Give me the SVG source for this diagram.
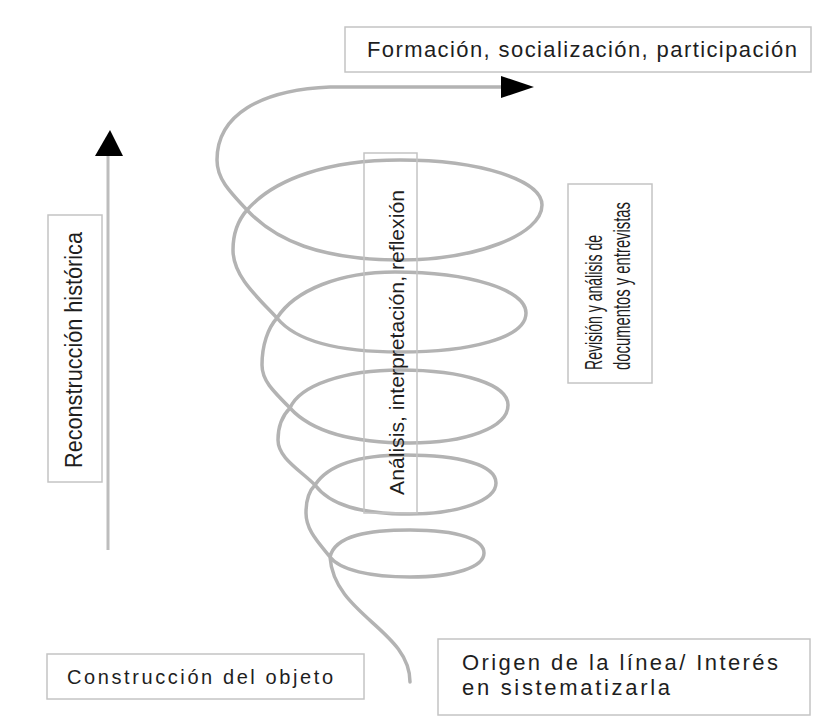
<svg xmlns="http://www.w3.org/2000/svg" width="816" height="717" viewBox="0 0 816 717">
<style>
.box{fill:#ffffff;stroke:#c4c4c4;stroke-width:1.5}
.lbl{font-family:"Liberation Sans",Arial,sans-serif;fill:#1e1e1e}
.spiral{fill:none;stroke:#b3b3b3;stroke-width:3.5;stroke-linecap:round;stroke-linejoin:round}
.axis{fill:none;stroke:#bdbdbd;stroke-width:3}
.head{fill:#000000}
</style>
<rect x="0" y="0" width="816" height="717" fill="#ffffff"/>
<g id="connectors">
<path class="spiral" d="M 410,682 C 410,630 334,615 330,557 C 335,535 370,530 410,530 C 460,530 484,540 484,553 C 484,567 455,577 410,577 C 370,577 340,570 330,557 C 318,542 306,530 306,513 C 306,500 310,490 315,485 C 330,462 365,455 405,455 C 460,455 496,465 496,483 C 496,500 460,514 410,514 C 360,514 330,505 315,485 C 300,470 278,458 278,440 C 278,425 283,415 290,408 C 300,385 345,370 400,370 C 465,370 508,385 508,405 C 508,428 465,443 410,443 C 350,443 310,430 290,408 C 272,390 262,380 262,365 C 262,345 268,328 277,318 C 295,290 340,272 395,272 C 470,272 526,290 526,313 C 526,338 470,352 400,352 C 335,352 295,340 277,318 C 255,295 233,275 233,250 C 233,232 240,218 247,210 C 275,178 330,160 400,160 C 480,160 542,180 542,205 C 542,235 475,260 400,260 C 320,260 275,240 247,210 C 228,190 217,178 217,160 C 217,115 260,90 330,87 L 505,87"/>
<polygon class="head" points="534,87 501,76 501,98"/>
<line class="axis" x1="108" y1="550" x2="108" y2="154"/>
<polygon class="head" points="110,130 95,156 123,156"/>
</g>
<g id="formacion">
<rect class="box" x="345" y="27" width="466" height="45"/>
<text class="lbl" x="367" y="57" font-size="22" textLength="430">Formación, socialización, participación</text>
</g>
<g id="reconstruccion">
<rect class="box" x="48" y="215" width="54" height="267"/>
<text class="lbl" font-size="23" transform="translate(82,468) rotate(-90)" textLength="236" lengthAdjust="spacingAndGlyphs">Reconstrucción histórica</text>
</g>
<g id="analisis">
<rect class="box" x="364" y="153" width="53" height="360" style="fill:none"/>
<text class="lbl" font-size="21" transform="translate(404,495) rotate(-90)" textLength="305" lengthAdjust="spacingAndGlyphs">Análisis, interpretación, reflexión</text>
</g>
<g id="revision">
<rect class="box" x="568" y="184" width="84" height="199"/>
<text class="lbl" font-size="24" transform="translate(602,370) rotate(-90)" textLength="135" lengthAdjust="spacingAndGlyphs">Revisión y análisis de</text>
<text class="lbl" font-size="24" transform="translate(630,370) rotate(-90)" textLength="168" lengthAdjust="spacingAndGlyphs">documentos y entrevistas</text>
</g>
<g id="construccion">
<rect class="box" x="47" y="654" width="317" height="45"/>
<text class="lbl" x="67" y="684" font-size="20" textLength="266">Construcción del objeto</text>
</g>
<g id="origen">
<rect class="box" x="438" y="639" width="372" height="76"/>
<text class="lbl" x="462" y="670" font-size="22" textLength="316">Origen de la línea/ Interés</text>
<text class="lbl" x="462" y="695" font-size="22" textLength="208">en sistematizarla</text>
</g>
</svg>
